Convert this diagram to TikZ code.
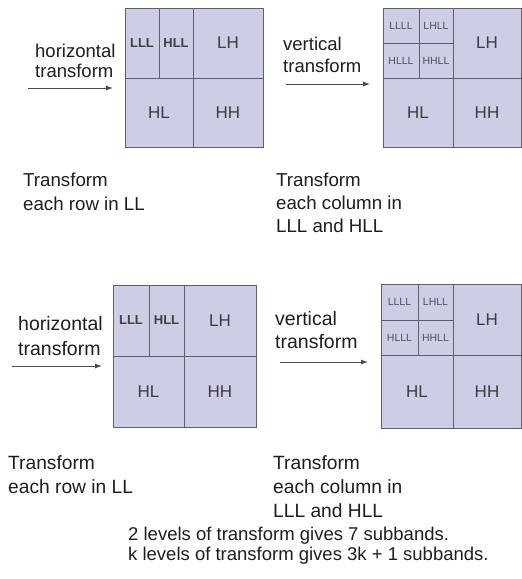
\documentclass[tikz,border=0pt]{standalone}
\usepackage{fontspec}
\setmainfont{Liberation Sans}
\usetikzlibrary{arrows.meta}
\definecolor{bandfill}{RGB}{205,205,230}
\definecolor{bandline}{RGB}{95,95,110}
\definecolor{txt}{RGB}{30,30,30}
\definecolor{bandtxt}{RGB}{60,60,66}
\definecolor{smalltxt}{RGB}{80,80,90}
\begin{document}
\begin{tikzpicture}[x=1pt,y=-1pt,
  band/.style={draw=bandline, fill=bandfill, line width=0.9pt, inner sep=0, text=bandtxt, font=\fontsize{17}{17}\selectfont},
  bandA/.style={band, font=\fontsize{13}{13}\selectfont\bfseries, text=txt!85},
  bandB/.style={band, font=\fontsize{10.5}{10.5}\selectfont, text=smalltxt},
  lbl/.style={anchor=base west, inner sep=0, align=left, text=txt},
  arr/.style={draw=txt!80, line width=0.9pt, -{Latex[length=7pt,width=5pt]}}]
\fill[white] (0,0) rectangle (522,579);
\useasboundingbox (0,0) rectangle (522,579);

% ---------- top-left block ----------
\node[band, minimum width=68, minimum height=69] (b1hl) at (159,112.5) {HL};
\node[band, minimum width=70, minimum height=69] (b1hh) at (228,112.5) {HH};
\node[band, minimum width=70, minimum height=70] (b1lh) at (228,43) {LH};
\node[bandA, minimum width=34, minimum height=70] (b1lll) at (142,43) {LLL};
\node[bandA, minimum width=34, minimum height=70] (b1hll) at (176,43) {HLL};

% ---------- top-right block ----------
\node[band, minimum width=70, minimum height=69] (b2hl) at (418,112.5) {HL};
\node[band, minimum width=68, minimum height=69] (b2hh) at (487,112.5) {HH};
\node[band, minimum width=68, minimum height=70] (b2lh) at (487,43) {LH};
\node[bandB, minimum width=36, minimum height=35] (b2llll) at (401,25.5) {LLLL};
\node[bandB, minimum width=34, minimum height=35] (b2lhll) at (436,25.5) {LHLL};
\node[bandB, minimum width=36, minimum height=35] (b2hlll) at (401,60.5) {HLLL};
\node[bandB, minimum width=34, minimum height=35] (b2hhll) at (436,60.5) {HHLL};

% ---------- bottom-left block ----------
\node[band, minimum width=71, minimum height=71] (b3hl) at (148.5,391.5) {HL};
\node[band, minimum width=72, minimum height=71] (b3hh) at (220,391.5) {HH};
\node[band, minimum width=72, minimum height=71] (b3lh) at (220,320.5) {LH};
\node[bandA, minimum width=36, minimum height=71] (b3lll) at (131,320.5) {LLL};
\node[bandA, minimum width=35, minimum height=71] (b3hll) at (166.5,320.5) {HLL};

% ---------- bottom-right block ----------
\node[band, minimum width=72, minimum height=73] (b4hl) at (417,391.5) {HL};
\node[band, minimum width=68, minimum height=73] (b4hh) at (487,391.5) {HH};
\node[band, minimum width=68, minimum height=71] (b4lh) at (487,319.5) {LH};
\node[bandB, minimum width=37, minimum height=36] (b4llll) at (399.5,302) {LLLL};
\node[bandB, minimum width=35, minimum height=36] (b4lhll) at (435.5,302) {LHLL};
\node[bandB, minimum width=37, minimum height=35] (b4hlll) at (399.5,337.5) {HLLL};
\node[bandB, minimum width=35, minimum height=35] (b4hhll) at (435.5,337.5) {HHLL};

% ---------- transform labels (anchored at last baseline) ----------
\node[lbl, font=\fontsize{18.5}{20}\selectfont] (t1) at (35,77) {horizontal\\transform};
\node[lbl, font=\fontsize{18.5}{22}\selectfont] (t2) at (283,72) {vertical\\transform};
\node[lbl, font=\fontsize{19.5}{24.5}\selectfont] (t3) at (18,355.2) {horizontal\\transform};
\node[lbl, font=\fontsize{19.5}{23}\selectfont] (t4) at (275,348) {vertical\\transform};

% ---------- arrows ----------
\coordinate (a1s) at (28,88);  \coordinate (a1e) at (113,88);
\coordinate (a2s) at (286,84); \coordinate (a2e) at (370,84);
\coordinate (a3s) at (12,366); \coordinate (a3e) at (102,366);
\coordinate (a4s) at (280,362);\coordinate (a4e) at (368,362);
\draw[arr] (a1s) -- (a1e);
\draw[arr] (a2s) -- (a2e);
\draw[arr] (a3s) -- (a3e);
\draw[arr] (a4s) -- (a4e);

% ---------- captions ----------
\node[lbl, font=\fontsize{18.7}{23.3}\selectfont] (c1) at (23,210) {Transform\\each row in LL};
\node[lbl, font=\fontsize{18.7}{23}\selectfont] (c2) at (276,232.7) {Transform\\each column in\\LLL and HLL};
\node[lbl, font=\fontsize{19.2}{24}\selectfont] (c3) at (8,493) {Transform\\each row in LL};
\node[lbl, font=\fontsize{19.2}{24}\selectfont] (c4) at (273,517) {Transform\\each column in\\LLL and HLL};
\node[lbl, font=\fontsize{18.5}{20.7}\selectfont] (note) at (128,560.7) {2 levels of transform gives 7 subbands.\\k levels of transform gives 3k + 1 subbands.};
\end{tikzpicture}
\end{document}
